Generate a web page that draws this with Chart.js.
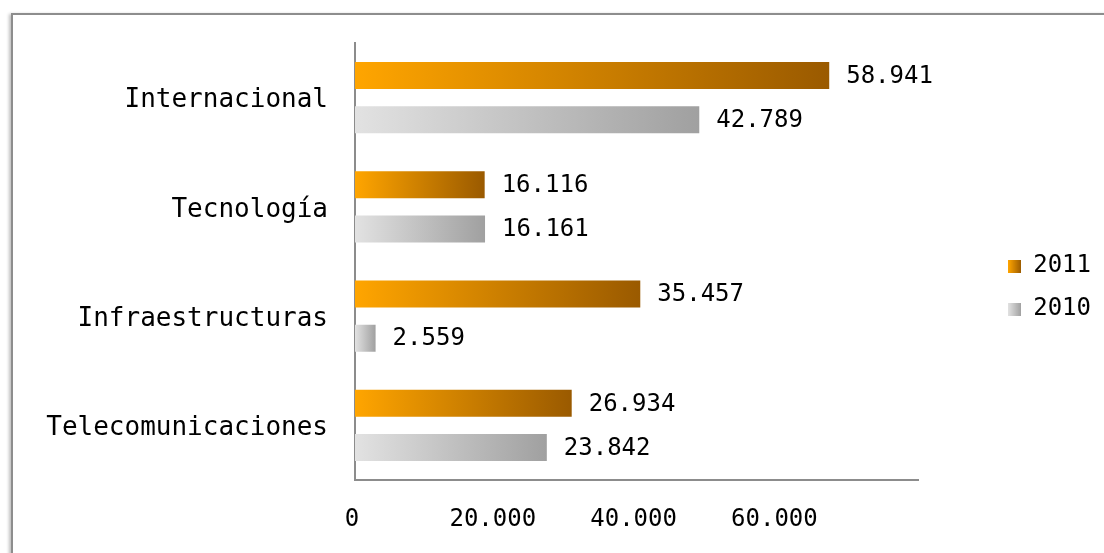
<!DOCTYPE html>
<html>
<head>
<meta charset="utf-8">
<script src="https://cdn.jsdelivr.net/npm/chart.js@4"></script>
<style>
  html, body { margin: 0; padding: 0; background: #fff; }
  #wrap { position: relative; width: 1104px; height: 553px; overflow: hidden; }
  #frame { position: absolute; left: 11px; top: 13px; width: 1300px; height: 700px;
           border: 2px solid #8d8d8d; box-shadow: -2px 1px 3px rgba(0,0,0,0.25); background: #fff; }
  canvas { position: absolute; left: 0; top: 0; }
</style>
</head>
<body>
<div id="wrap">
  <div id="frame"></div>
  <canvas id="c" width="1104" height="553"></canvas>
</div>
<script>
const categories = ['Internacional', 'Tecnología', 'Infraestructuras', 'Telecomunicaciones'];
const seriesNames = ['2011', '2010'];
const values2011 = [58941, 16116, 35457, 26934];
const values2010 = [42789, 16161, 2559, 23842];
const axisTicks = [0, 20000, 40000, 60000];

const MONO = '"DejaVu Sans Mono", monospace';
function fmt(v) { return String(v).replace(/\B(?=(\d{3})+(?!\d))/g, '.'); }

function gradFill(c0, c1) {
  return (ctx) => {
    const chart = ctx.chart;
    if (!chart.chartArea || ctx.type !== 'data') return c0;
    const xs = chart.scales.x;
    const a = xs.getPixelForValue(0), b = xs.getPixelForValue(ctx.raw);
    const g = chart.ctx.createLinearGradient(a, 0, Math.max(b, a + 1), 0);
    g.addColorStop(0, c0);
    g.addColorStop(1, c1);
    return g;
  };
}
function legendIcon(c0, c1) {
  const cv = document.createElement('canvas');
  cv.width = 13; cv.height = 13;
  const g2 = cv.getContext('2d');
  const g = g2.createLinearGradient(0, 0, 13, 0);
  g.addColorStop(0, c0); g.addColorStop(1, c1);
  g2.fillStyle = g; g2.fillRect(0, 0, 13, 13);
  return cv;
}
const palette = [['#FFA500', '#9A5A00'], ['#E2E2E2', '#A0A0A0']];
const icons = palette.map(p => legendIcon(p[0], p[1]));

const valueLabels = {
  id: 'valueLabels',
  afterDatasetsDraw(chart) {
    const ctx = chart.ctx;
    ctx.save();
    ctx.font = '24px ' + MONO;
    ctx.fillStyle = '#000';
    ctx.textBaseline = 'middle';
    ctx.textAlign = 'left';
    chart.data.datasets.forEach((ds, i) => {
      chart.getDatasetMeta(i).data.forEach((el, j) => {
        ctx.fillText(fmt(ds.data[j]), el.x + 17, el.y + 1);
      });
    });
    ctx.restore();
  }
};

new Chart(document.getElementById('c'), {
  type: 'bar',
  data: {
    labels: categories,
    datasets: [
      { label: seriesNames[0], data: values2011, xAxisID: 'x', yAxisID: 'y',
        backgroundColor: gradFill(palette[0][0], palette[0][1]) },
      { label: seriesNames[1], data: values2010, xAxisID: 'x', yAxisID: 'y',
        backgroundColor: gradFill(palette[1][0], palette[1][1]) }
    ]
  },
  options: {
    indexAxis: 'y',
    responsive: false,
    animation: false,
    devicePixelRatio: 1,
    categoryPercentage: 0.807,
    barPercentage: 0.614,
    layout: { padding: { left: 0, top: 43, right: 3, bottom: 21 } },
    scales: {
      x: { type: 'linear', min: 0, max: 70000, display: false },
      x2: {
        type: 'linear', position: 'bottom', min: 0, max: 80000,
        grid: { display: false, drawTicks: false },
        border: { display: true, color: '#8c8c8c', width: 2 },
        afterBuildTicks: (s) => { s.ticks = axisTicks.map(v => ({ value: v })).concat([{ value: 80000 }]); },
        afterFit: (s) => { s.height = 52; },
        ticks: {
          padding: 25, color: '#000', font: { family: MONO, size: 24 },
          maxRotation: 0, autoSkip: false, labelOffset: -3,
          callback: (v) => axisTicks.includes(v) ? fmt(v) : ''
        }
      },
      y: {
        type: 'category',
        grid: { display: false, drawTicks: false },
        border: { display: true, color: '#8c8c8c', width: 2 },
        ticks: { padding: 27, labelOffset: 3, color: '#000', font: { family: MONO, size: 26 } },
        afterFit: (s) => { s.width = 355; }
      },
      gap: {
        type: 'linear', position: 'right', axis: 'y', display: true,
        grid: { display: false, drawTicks: false }, border: { display: false },
        ticks: { display: false },
        afterFit: (s) => { s.width = 71; }
      }
    },
    plugins: {
      tooltip: { enabled: false },
      legend: {
        position: 'right',
        labels: {
          usePointStyle: true, boxWidth: 13, boxHeight: 13, padding: 19,
          color: '#000', font: { family: MONO, size: 24 },
          generateLabels: (chart) => chart.data.datasets.map((ds, i) => ({
            text: ds.label, datasetIndex: i, hidden: false,
            pointStyle: icons[i], fillStyle: palette[i][0],
            strokeStyle: 'rgba(0,0,0,0)', lineWidth: 0, fontColor: '#000'
          }))
        }
      }
    }
  },
  plugins: [valueLabels]
});
</script>
</body>
</html>
